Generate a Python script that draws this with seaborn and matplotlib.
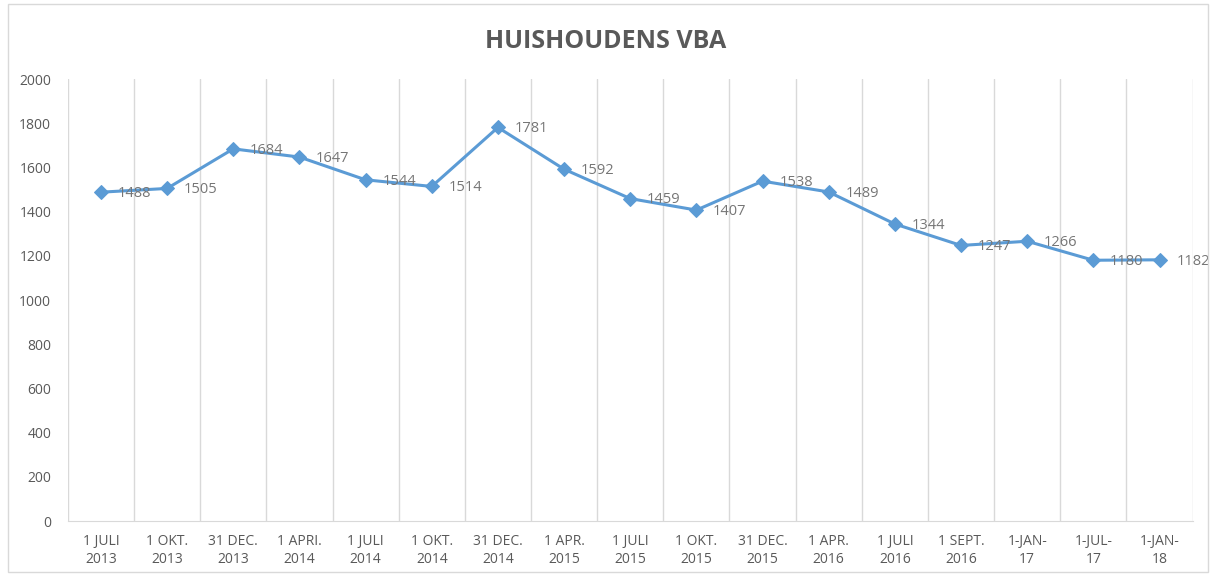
import matplotlib.pyplot as plt
import seaborn as sns
import numpy as np
import pandas as pd

labels = ["1 JULI\n2013", "1 OKT.\n2013", "31 DEC.\n2013", "1 APRI.\n2014",
          "1 JULI\n2014", "1 OKT.\n2014", "31 DEC.\n2014", "1 APR.\n2015",
          "1 JULI\n2015", "1 OKT.\n2015", "31 DEC.\n2015", "1 APR.\n2016",
          "1 JULI\n2016", "1 SEPT.\n2016", "1-JAN-\n17", "1-JUL-\n17", "1-JAN-\n18"]
values = [1488, 1505, 1684, 1647, 1544, 1514, 1781, 1592, 1459, 1407,
          1538, 1489, 1344, 1247, 1266, 1180, 1182]

sns.set_style("white")
plt.rcParams['font.family'] = ['Open Sans', 'DejaVu Sans']

grey = "#595959"
lblgrey = "#767676"
blue = "#5B9BD5"

df = pd.DataFrame({"pos": np.arange(len(values)), "waarde": values})

fig = plt.figure(figsize=(12.12, 5.74), dpi=100)
ax = fig.add_axes([0.056, 0.0923, 0.928, 0.77])

sns.lineplot(data=df, x="pos", y="waarde", ax=ax, color=blue, linewidth=2.2,
             marker="D", markersize=7, markeredgecolor=blue)

for x, y in zip(df["pos"], df["waarde"]):
    ax.annotate(str(y), (x, y), xytext=(12, -1), textcoords="offset points",
                ha="left", va="center", fontsize=10.5, color=lblgrey)

ax.set_xlim(-0.5, len(values) - 0.5)
ax.set_ylim(0, 2000)
ax.set_yticks(np.arange(0, 2001, 200))
ax.set_xticks(df["pos"])
ax.set_xticklabels(labels, fontsize=10, color=grey, linespacing=1.35)
ax.set_xticks(np.arange(-0.5, len(values), 1), minor=True)
ax.tick_params(axis="y", labelsize=10, labelcolor=grey, length=0, pad=12)
ax.tick_params(axis="x", which="both", length=0, pad=9)
ax.grid(False)
ax.grid(True, which="minor", axis="x", color="#D9D9D9", linewidth=1)

for s in ["top", "right", "left"]:
    ax.spines[s].set_visible(False)
ax.spines["bottom"].set_color("#D9D9D9")

ax.set_xlabel("")
ax.set_ylabel("")
fig.text(0.5, 0.928, "HUISHOUDENS VBA", ha="center", va="center",
         fontsize=18, fontweight="bold", color=grey)

fig.patches.append(plt.Rectangle((0.0066, 0.003), 0.99, 0.99, transform=fig.transFigure,
                                 fill=False, edgecolor="#D9D9D9", linewidth=1))

fig.savefig("out.png", dpi=100)
